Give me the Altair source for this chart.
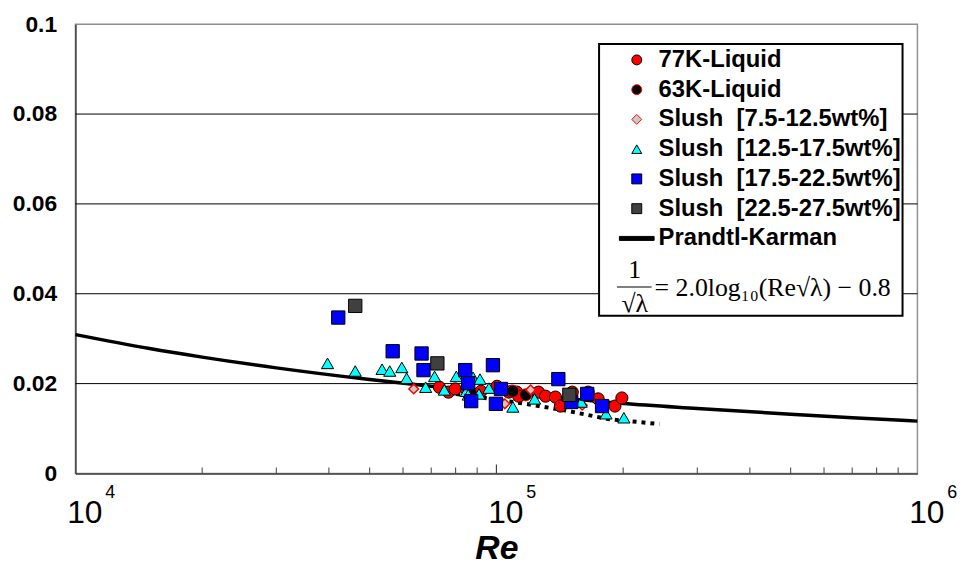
import altair as alt
import pandas as pd

# ---------------- data ----------------
series_names = ["77K-Liquid", "63K-Liquid",
                "Slush\u00a0\u00a0[7.5-12.5wt%]", "Slush\u00a0\u00a0[12.5-17.5wt%]",
                "Slush\u00a0\u00a0[17.5-22.5wt%]", "Slush\u00a0\u00a0[22.5-27.5wt%]",
                "Prandtl-Karman"]

re_77k = [7.32e4, 7.69e4, 7.98e4, 8.48e4, 9.19e4, 1.003e5, 1.07e5, 1.088e5, 1.118e5, 1.13e5,
          1.259e5, 1.308e5, 1.381e5, 1.419e5, 1.514e5, 1.652e5, 1.744e5, 1.912e5, 1.986e5]
f_77k = [0.0192, 0.0181, 0.0188, 0.0188, 0.0183, 0.0194, 0.0181, 0.0183, 0.0181, 0.0172,
         0.0181, 0.0172, 0.0170, 0.0150, 0.0181, 0.0181, 0.0166, 0.0150, 0.0168]

re_63k = [8.71e4, 1.094e5, 1.174e5]
f_63k = [0.0177, 0.0183, 0.0175]

re_s1 = [6.36e4, 1.047e5, 1.206e5, 1.599e5]
f_s1 = [0.0188, 0.0155, 0.0186, 0.0152]

re_s2 = [3.97e4, 4.62e4, 5.35e4, 5.58e4, 5.96e4, 6.12e4, 6.79e4, 7.13e4, 7.52e4, 8.03e4,
         8.8e4, 9.14e4, 8.48e4, 9.09e4, 8.57e4, 9.6e4, 1.094e5, 1.232e5, 1.59e5, 1.821e5, 2.008e5]
f_s2 = [0.0245, 0.0228, 0.0232, 0.0228, 0.0236, 0.0212, 0.0192, 0.0216, 0.0186, 0.0216,
        0.0214, 0.0210, 0.0183, 0.0177, 0.0175, 0.0190, 0.0148, 0.0166, 0.0159, 0.0133, 0.0124]

re_s3 = [4.21e4, 5.67e4, 6.64e4, 6.71e4, 8.43e4, 8.57e4, 8.71e4, 9.81e4, 9.97e4, 1.025e5,
         1.403e5, 1.643e5, 1.506e5, 1.782e5]
f_s3 = [0.0347, 0.0272, 0.0267, 0.0230, 0.0230, 0.0201, 0.0161, 0.0241, 0.0155, 0.0188,
        0.0210, 0.0177, 0.0159, 0.0150]

re_s4 = [4.62e4, 7.24e4, 1.49e5]
f_s4 = [0.0373, 0.0245, 0.0175]

pk_re = [1e4, 1.5e4, 2e4, 3e4, 5e4, 7e4, 1e5, 1.5e5, 2e5, 3e5, 5e5, 7e5, 1e6]
pk_f = [0.0309, 0.0278, 0.0259, 0.0235, 0.0209, 0.0194, 0.0180, 0.01657, 0.01557,
        0.01447, 0.01317, 0.0124, 0.01165]

dot_re = [8.03e4, 1.174e5, 1.482e5, 1.841e5, 2.44e5]
dot_f = [0.0177, 0.0155, 0.0139, 0.0121, 0.0110]

minor_ticks = [2e4, 3e4, 4e4, 5e4, 6e4, 7e4, 8e4, 9e4, 2e5, 3e5, 4e5, 5e5, 6e5, 7e5, 8e5, 9e5]
major_ticks = [1e5]
x_label_values = [1e4, 1e5, 1e6]
x_label_exponents = ["4", "5", "6"]
y_label_values = [0, 0.02, 0.04, 0.06, 0.08, 0.1]
grid_split = [0.04, 0.06, 0.08]   # gridlines interrupted by the legend box
grid_full = [0.02]

# ---------------- tables ----------------
groups = [(re_77k, f_77k, series_names[0]), (re_63k, f_63k, series_names[1]),
          (re_s1, f_s1, series_names[2]), (re_s2, f_s2, series_names[3]),
          (re_s3, f_s3, series_names[4]), (re_s4, f_s4, series_names[5])]
rows = []
for gi, (res, fs, name) in enumerate(groups):
    for r, f in zip(res, fs):
        rows.append({"Re": r, "f": f, "series": name, "g": gi})
pts = pd.DataFrame(rows)
pk = pd.DataFrame({"Re": pk_re, "f": pk_f})
dot = pd.DataFrame({"Re": dot_re, "f": dot_f})
minor_df = pd.DataFrame({"Re": minor_ticks})
major_df = pd.DataFrame({"Re": major_ticks})
exp_df = pd.DataFrame({"Re": x_label_values, "e": x_label_exponents})
gs_df = pd.DataFrame({"f": grid_split})
gf_df = pd.DataFrame({"f": grid_full})
one = pd.DataFrame({"a": [0]})

W, H = 849, 453
BX0, BX1, BY0, BY1 = 528, 834, 20, 294
xscale = alt.Scale(type="log", domain=[1e4, 1e6], nice=False)
yscale = alt.Scale(domain=[0, 0.1], nice=False)

x_enc = alt.X("Re:Q", scale=xscale,
              axis=alt.Axis(values=x_label_values, ticks=False, grid=False,
                            labelExpr="'10'",
                            labelFont="Liberation Sans", labelFontSize=32, labelColor="black",
                            labelPadding=24, labelFlush=False, labelOverlap=False, labelOffset=9,
                            domainColor="#404040", domainWidth=1.5,
                            title="Re", titleFont="Liberation Sans", titleFontSize=34,
                            titleFontWeight="bold", titleFontStyle="italic", titleColor="black",
                            titlePadding=4))
y_enc = alt.Y("f:Q", scale=yscale,
              axis=alt.Axis(values=y_label_values, format="~g", ticks=False, grid=False,
                            labelFont="Liberation Sans", labelFontSize=23, labelFontWeight="bold",
                            labelColor="black", labelPadding=19,
                            domainColor="#404040", domainWidth=1.5, title=None))

grid_l = alt.Chart(gs_df).mark_rule(color="black", strokeWidth=1).encode(
    y=alt.Y("f:Q"), x=alt.value(0), x2=alt.value(BX0))
grid_r = alt.Chart(gs_df).mark_rule(color="black", strokeWidth=1).encode(
    y=alt.Y("f:Q"), x=alt.value(BX1), x2=alt.value(W))
grid_f = alt.Chart(gf_df).mark_rule(color="black", strokeWidth=1).encode(
    y=alt.Y("f:Q"), x=alt.value(0), x2=alt.value(W))

box = alt.Chart(one).mark_rect(fill="white", fillOpacity=0, stroke="black", strokeWidth=2).encode(
    x=alt.value(BX0), x2=alt.value(BX1), y=alt.value(BY0), y2=alt.value(BY1))

pk_line = alt.Chart(pk).mark_line(color="black", strokeWidth=3.5, interpolate="monotone").encode(
    x=x_enc, y=y_enc)

dot_line = alt.Chart(dot).mark_line(color="black", strokeWidth=4, strokeDash=[4, 5]).encode(
    x="Re:Q", y="f:Q")

line_sym = "M-3.5,-0.4L3.5,-0.4L3.5,0.4L-3.5,0.4Z"
shape_enc = alt.Shape("series:N", scale=alt.Scale(domain=series_names,
                      range=["circle", "circle", "diamond", "triangle-up", "square", "square", line_sym]),
                      legend=alt.Legend(title=None))
fill_enc = alt.Fill("series:N", scale=alt.Scale(domain=series_names,
                    range=["#ff0000", "#000000", "#c8c8c8", "#00ffff", "#0000ff", "#404040", "#000000"]),
                    legend=alt.Legend(title=None))
stroke_enc = alt.Stroke("series:N", scale=alt.Scale(domain=series_names,
                        range=["#000000", "#ff0000", "#ff0000", "#000000", "#000000", "#000000", "#000000"]),
                        legend=alt.Legend(title=None))


def point_layer(groups_idx, size, sw=1.0):
    return alt.Chart(pts).transform_filter(
        alt.FieldOneOfPredicate(field="g", oneOf=groups_idx)
    ).mark_point(filled=True, opacity=1, strokeWidth=sw, size=size).encode(
        x="Re:Q", y="f:Q", shape=shape_enc, fill=fill_enc, stroke=stroke_enc)


p_liq = point_layer([0, 1], 150)
p_dia = point_layer([2], 95, 1.5)
p_tri = point_layer([3], 150)
p_sq = point_layer([4, 5], 180)

minor = alt.Chart(minor_df).mark_rule(color="#404040", strokeWidth=1).encode(
    x="Re:Q", y=alt.value(H), y2=alt.value(H - 6))
major = alt.Chart(major_df).mark_rule(color="#404040", strokeWidth=1.2).encode(
    x="Re:Q", y=alt.value(H), y2=alt.value(H - 9))

exps = alt.Chart(exp_df).mark_text(font="Liberation Sans", fontSize=18, color="black",
                                   align="left", baseline="middle", dx=30).encode(
    x="Re:Q", y=alt.value(H + 20), text="e:N")

serif = "Liberation Serif"
num1 = alt.Chart(one).mark_text(font=serif, fontSize=26, color="black", align="center", baseline="middle").encode(
    x=alt.value(564), y=alt.value(248), text=alt.value("1"))
bar = alt.Chart(one).mark_rule(color="black", strokeWidth=1.2).encode(
    x=alt.value(546), x2=alt.value(581), y=alt.value(265))
den = alt.Chart(one).mark_text(font=serif, fontSize=26, color="black", align="center", baseline="middle").encode(
    x=alt.value(564), y=alt.value(282), text=alt.value("\u221a\u03bb"))
eq = alt.Chart(one).mark_text(font=serif, fontSize=26, color="black", align="left", baseline="middle").encode(
    x=alt.value(584), y=alt.value(266), text=alt.value("= 2.0log\u2081\u2080(Re\u221a\u03bb) \u2212 0.8"))

chart = alt.layer(grid_l, grid_r, grid_f, box, pk_line, dot_line, p_liq, p_dia, p_tri, p_sq,
                  minor, major, exps, num1, bar, den, eq).properties(
    width=W, height=H, background="white",
    autosize=alt.AutoSizeParams(type="none"),
    padding={"left": 68, "top": 14, "right": 50, "bottom": 92},
).configure_view(stroke="#909090", strokeWidth=1.5).configure_legend(
    orient="none", legendX=554, legendY=24, padding=0,
    labelFont="Liberation Sans", labelFontSize=24, labelFontWeight="bold",
    labelColor="black", labelLimit=320,
    labelOffset=10, rowPadding=6, symbolSize=100, symbolStrokeWidth=1,
)

chart.save("out.html", embed_options={"renderer": "svg", "actions": False})
